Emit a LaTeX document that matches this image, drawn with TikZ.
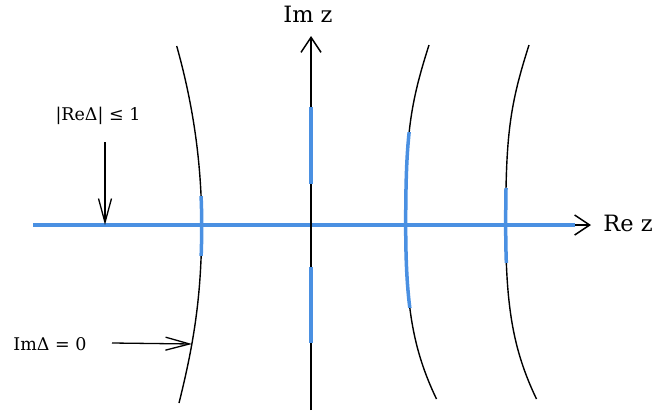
\documentclass[tikz,border=0pt]{standalone}
\usepackage{fontspec}
\setmainfont{DejaVu Serif}
\usetikzlibrary{arrows.meta}
\definecolor{bl}{RGB}{74,144,226}
\tikzset{
  axis/.style={line width=1.5pt, -{Straight Barb[length=15pt,width=20pt]}},
  curve/.style={line width=1.4pt},
  blueline/.style={bl, line width=3.5pt},
  pointer/.style={line width=1.3pt, -{Straight Barb[length=24pt,width=13pt]}},
  biglabel/.style={inner sep=0pt, font=\fontsize{22.5}{24}\selectfont},
  smalllabel/.style={inner sep=0pt, font=\fontsize{17.5}{20}\selectfont}
}
\newcommand{\curveA}{(176.7,46) .. controls (190.7,96) and (201.7,155) .. (201.7,225) .. controls (201.7,295) and (194,343) .. (179,403)}
\newcommand{\curveB}{(429,45) .. controls (409.8,105) and (405.7,135) .. (405.7,225) .. controls (405.7,305) and (412.5,349) .. (436.5,399)}
\newcommand{\curveC}{(529,45) .. controls (509.8,105) and (505.7,135) .. (505.7,225) .. controls (505.7,305) and (512.5,349) .. (536.5,399)}
\begin{document}
\begin{tikzpicture}[x=1pt,y=-1pt]
\useasboundingbox (0,0) rectangle (656,418);
% coordinates
\coordinate (hl) at (33,225);
\coordinate (hr) at (591,225);
\coordinate (hb) at (575,225);
\coordinate (vb) at (311,410);
\coordinate (vt) at (311,36);
% horizontal axis
\draw[axis] (hl) -- (hr);
\draw[blueline] (hl) -- (hb);
% curves
\draw[curve] \curveA;
\draw[curve] \curveB;
\draw[curve] \curveC;
\begin{scope}
\clip (150,196) rectangle (250,255);
\draw[blueline] \curveA;
\end{scope}
\begin{scope}
\clip (350,132) rectangle (460,307);
\draw[blueline] \curveB;
\end{scope}
\begin{scope}
\clip (460,188) rectangle (560,262);
\draw[blueline] \curveC;
\end{scope}
% vertical axis
\draw[axis] (vb) -- (vt);
\coordinate (b1) at (311,107);
\coordinate (b2) at (311,184);
\coordinate (b3) at (311,267);
\coordinate (b4) at (311,343);
\draw[blueline] (b1) -- (b2);
\draw[blueline] (b3) -- (b4);
% labels
\node[biglabel] (imz) at (308,14) {Im z};
\node[biglabel] (rez) at (628,223) {Re z};
\node[smalllabel] (lab1) at (98,116) {|ReΔ| ≤ 1};
\node[smalllabel] (lab2) at (50,344) {ImΔ = 0};
% pointers
\coordinate (p1s) at (105,142);
\coordinate (p1e) at (105,225);
\coordinate (p2s) at (112,343);
\coordinate (p2e) at (192,344);
\draw[pointer] (p1s) -- (p1e);
\draw[pointer] (p2s) -- (p2e);
\end{tikzpicture}
\end{document}
